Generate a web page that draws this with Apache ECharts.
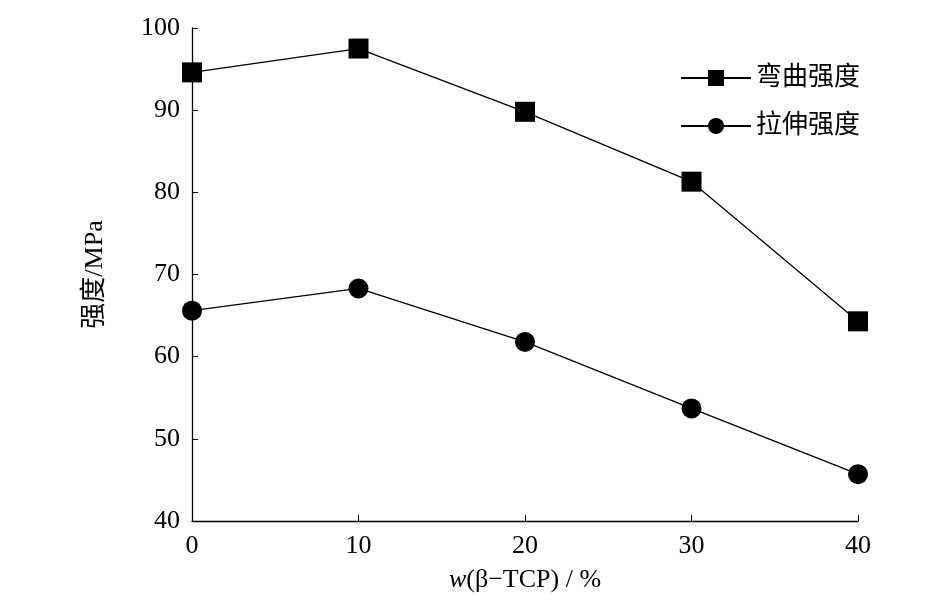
<!DOCTYPE html>
<html><head><meta charset="utf-8">
<script src="https://cdn.jsdelivr.net/npm/echarts@6/dist/echarts.min.js"></script>
<style>html,body{margin:0;padding:0;background:#fff}#main{width:945px;height:614px}</style>
</head><body><div id="main"></div>
<script>
// data
var content = [0, 10, 20, 30, 40];
var flexural = [94.6, 97.5, 89.8, 81.3, 64.3];
var tensile = [65.6, 68.3, 61.8, 53.7, 45.7];
var seriesNames = ['弯曲强度', '拉伸强度'];

var font = 'Liberation Serif, Times New Roman, Noto Sans CJK SC, serif';
var chart = echarts.init(document.getElementById('main'));
function pairs(ys){ return content.map(function(x,i){ return [x, ys[i]]; }); }
var lineStyle = {color:'#000', width:1.3};
chart.setOption({
  animation:false,
  textStyle:{fontFamily:font, color:'#000'},
  grid:{left:192, right:87, top:28, bottom:93},
  legend:{
    right:80, top:60, orient:'vertical', itemWidth:70, itemHeight:20, itemGap:22,
    textStyle:{fontSize:26, fontFamily:font, color:'#000'},
    data:seriesNames
  },
  xAxis:{
    type:'value', min:0, max:40, interval:10,
    name:'{i|w}(β−TCP) / %', nameLocation:'middle', nameGap:46,
    nameTextStyle:{fontSize:26, fontFamily:font, color:'#000',
      rich:{i:{fontStyle:'italic', fontSize:26, fontFamily:font}}},
    axisLine:{lineStyle:{color:'#000', width:1.3}},
    axisTick:{inside:true, length:6, lineStyle:{color:'#000'}},
    axisLabel:{fontSize:26, color:'#000', margin:12, fontFamily:font},
    splitLine:{show:false}
  },
  yAxis:{
    type:'value', min:40, max:100, interval:10,
    name:'强度/MPa', nameLocation:'middle', nameGap:84, nameRotate:90,
    nameTextStyle:{fontSize:26, fontFamily:font, color:'#000'},
    axisLine:{show:true, lineStyle:{color:'#000', width:1.3}},
    axisTick:{show:true, inside:true, length:6, lineStyle:{color:'#000'}},
    axisLabel:{fontSize:26, color:'#000', margin:12, fontFamily:font},
    splitLine:{show:false}
  },
  series:[
    {name:seriesNames[0], type:'line', data:pairs(flexural), symbol:'rect', symbolSize:20,
     lineStyle:lineStyle, itemStyle:{color:'#000'}},
    {name:seriesNames[1], type:'line', data:pairs(tensile), symbol:'circle', symbolSize:20,
     lineStyle:lineStyle, itemStyle:{color:'#000'}}
  ]
});
</script></body></html>
